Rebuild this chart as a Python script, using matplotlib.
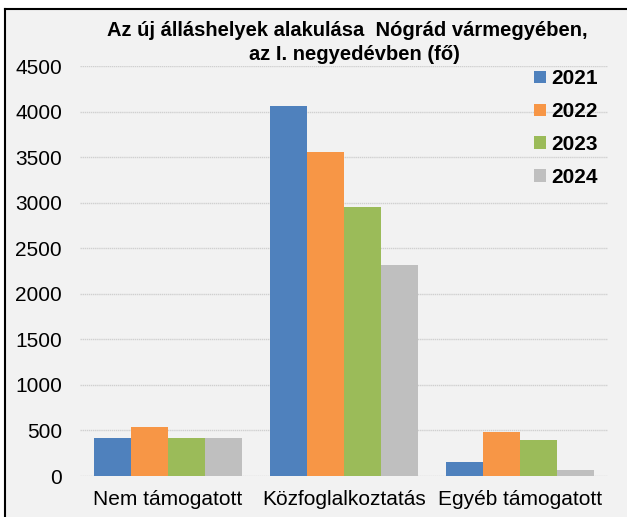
import matplotlib.pyplot as plt
from matplotlib.lines import Line2D
import numpy as np

plt.rcParams['font.family'] = ['Liberation Sans', 'DejaVu Sans']

categories = ['Nem támogatott', 'Közfoglalkoztatás', 'Egyéb támogatott']
years = ['2021', '2022', '2023', '2024']
values_2021 = [412, 4062, 157]
values_2022 = [540, 3551, 486]
values_2023 = [413, 2948, 390]
values_2024 = [413, 2313, 61]
series = [values_2021, values_2022, values_2023, values_2024]
colors = ['#4f81bd', '#f79646', '#9bbb59', '#bfbfbf']

bg = '#f2f2f2'
fig = plt.figure(figsize=(6.27, 5.17), dpi=100, facecolor='white')
# gray panel with black line on top and left
fig.patches.append(plt.Rectangle((5 / 627, 0), 1, 1 - 9 / 517, transform=fig.transFigure,
                                 facecolor=bg, edgecolor='none', zorder=-10))
fig.lines.append(Line2D([5 / 627, 5 / 627], [0, 1 - 9 / 517], transform=fig.transFigure,
                        color='black', lw=1.5))
fig.lines.append(Line2D([5 / 627, 1], [1 - 9 / 517, 1 - 9 / 517], transform=fig.transFigure,
                        color='black', lw=1.5))

ax = fig.add_axes([80 / 627, 1 - 476 / 517, 528 / 627, 410 / 517])
ax.set_facecolor(bg)

x = np.arange(len(categories))
w = 0.21
for i, (vals, col, yr) in enumerate(zip(series, colors, years)):
    ax.bar(x + (i - 1.5) * w, vals, w, color=col, label=yr, zorder=3)

ax.set_xlim(-0.5, 2.5)
ax.set_ylim(0, 4500)
ax.set_yticks(np.arange(0, 4501, 500))
ax.yaxis.grid(True, color='#d0d0d0', lw=1, linestyle=(0, (1, 0.5)))
ax.set_axisbelow(True)
for s in ax.spines.values():
    s.set_visible(False)
ax.tick_params(axis='y', length=0, pad=13, labelsize=15)
ax.tick_params(axis='x', length=0, pad=10, labelsize=15)
ax.set_xticks(x)
ax.set_xticklabels(categories)

leg = ax.legend(loc='upper right', bbox_to_anchor=(1.0, 1.017), frameon=False,
                prop={'weight': 'bold', 'size': 15}, handlelength=0.55, handleheight=0.55,
                handletextpad=0.25, labelspacing=0.66, borderaxespad=0.2, borderpad=0.3)

fig.text(347 / 627, 1 - 30 / 517, 'Az új álláshelyek alakulása  Nógrád vármegyében,',
         ha='center', va='center', fontsize=14.5, fontweight='bold')
fig.text(354 / 627, 1 - 55 / 517, 'az I. negyedévben (fő)',
         ha='center', va='center', fontsize=14.5, fontweight='bold')

fig.savefig('out.png', dpi=100, facecolor='white')
